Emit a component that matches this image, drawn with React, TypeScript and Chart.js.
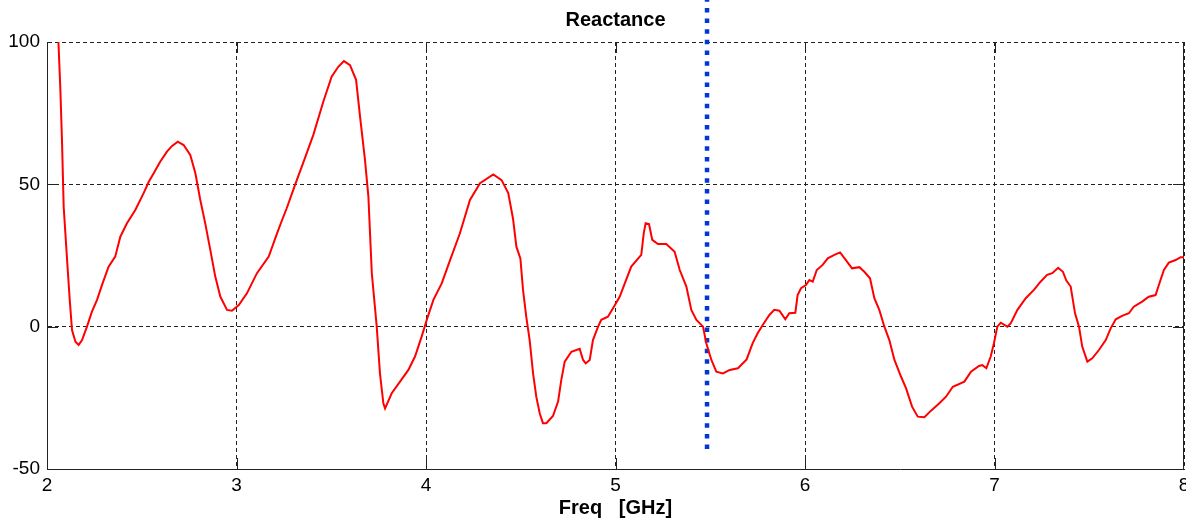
import { useEffect, useRef } from 'react';
import { Chart, registerables } from 'chart.js';

Chart.register(...registerables);

const chartTitle = 'Reactance';
const xAxisTitle = 'Freq   [GHz]';

const xTicks = [2, 3, 4, 5, 6, 7, 8];
const yTicks = [-50, 0, 50, 100];

const freqGHz = [
  2.060, 2.070, 2.079, 2.088, 2.106, 2.120, 2.132, 2.150, 2.167, 2.185,
  2.211, 2.237, 2.264, 2.290, 2.325, 2.360, 2.387, 2.422, 2.466, 2.510,
  2.537, 2.563, 2.598, 2.633, 2.660, 2.690, 2.721, 2.756, 2.783, 2.809,
  2.835, 2.862, 2.888, 2.915, 2.950, 2.976, 3.012, 3.055, 3.108, 3.170,
  3.214, 3.235, 3.265, 3.309, 3.361, 3.405, 3.458, 3.502, 3.537, 3.567,
  3.599, 3.631, 3.652, 3.678, 3.696, 3.714, 3.740, 3.757, 3.775, 3.784,
  3.819, 3.863, 3.907, 3.942, 3.977, 4.004, 4.039, 4.083, 4.127, 4.179,
  4.232, 4.285, 4.355, 4.399, 4.434, 4.459, 4.477, 4.498, 4.512, 4.529,
  4.547, 4.565, 4.582, 4.600, 4.617, 4.635, 4.670, 4.697, 4.714, 4.732,
  4.767, 4.811, 4.829, 4.843, 4.864, 4.881, 4.908, 4.925, 4.960, 4.987,
  5.022, 5.049, 5.083, 5.136, 5.149, 5.159, 5.177, 5.194, 5.224, 5.268,
  5.312, 5.339, 5.374, 5.400, 5.427, 5.462, 5.479, 5.506, 5.532, 5.567,
  5.603, 5.646, 5.692, 5.724, 5.750, 5.777, 5.812, 5.838, 5.865, 5.896,
  5.917, 5.949, 5.961, 5.979, 6.005, 6.023, 6.041, 6.062, 6.093, 6.120,
  6.155, 6.185, 6.216, 6.248, 6.287, 6.313, 6.343, 6.366, 6.392, 6.419,
  6.445, 6.472, 6.507, 6.533, 6.565, 6.595, 6.630, 6.665, 6.709, 6.744,
  6.780, 6.841, 6.876, 6.918, 6.936, 6.957, 6.980, 6.997, 7.015, 7.033,
  7.068, 7.086, 7.121, 7.165, 7.208, 7.243, 7.278, 7.305, 7.336, 7.361,
  7.379, 7.402, 7.425, 7.446, 7.463, 7.490, 7.516, 7.551, 7.587, 7.613,
  7.640, 7.673, 7.709, 7.735, 7.779, 7.814, 7.850, 7.876, 7.894, 7.920,
  7.956, 7.982, 8.000,
];

const reactance = [
  100.5, 84.3, 65.6, 42.1, 23.4, 9.4, -1.2, -5.3, -6.4, -4.7,
  0.0, 5.3, 9.4, 14.6, 21.1, 24.6, 31.6, 36.3, 41.0, 46.9,
  50.9, 53.9, 58.0, 61.5, 63.5, 65.0, 63.8, 60.3, 53.9, 44.5,
  36.3, 26.9, 17.6, 10.5, 5.9, 5.6, 7.6, 11.7, 18.8, 24.6,
  32.8, 36.5, 41.6, 49.8, 59.2, 67.3, 79.0, 87.8, 91.3, 93.3,
  91.9, 86.7, 73.8, 58.6, 45.7, 18.8, 0.0, -16.4, -26.9, -28.7,
  -23.4, -19.3, -15.2, -10.5, -3.5, 2.4, 9.4, 15.2, 23.4, 32.8,
  44.5, 50.4, 53.5, 51.5, 46.9, 38.0, 28.1, 24.0, 12.9, 3.5,
  -4.7, -16.4, -24.6, -30.4, -33.9, -33.9, -31.4, -26.3, -18.7, -12.3,
  -8.8, -7.8, -11.7, -12.9, -11.7, -4.7, 0.0, 2.4, 3.5, 6.5,
  10.5, 15.2, 21.1, 25.2, 32.8, 36.3, 36.0, 30.5, 29.0, 29.0,
  26.3, 19.9, 14.1, 5.9, 2.4, 0.0, -5.8, -11.7, -15.8, -16.4,
  -15.2, -14.6, -11.5, -5.8, -2.3, 0.6, 4.1, 5.9, 5.6, 2.6,
  4.7, 4.9, 11.1, 13.5, 14.6, 16.4, 15.8, 19.9, 21.7, 24.0,
  25.2, 26.1, 23.4, 20.5, 20.9, 19.3, 17.0, 10.0, 5.9, 0.0,
  -4.7, -11.7, -17.6, -21.6, -28.1, -31.6, -31.8, -29.5, -26.9, -24.6,
  -21.1, -19.3, -15.8, -13.8, -13.5, -14.6, -10.5, -5.8, 0.0, 1.4,
  0.0, 1.2, 5.9, 10.0, 12.9, 15.8, 18.2, 18.8, 20.7, 19.3,
  16.2, 14.1, 4.7, 0.0, -7.0, -12.3, -11.1, -8.2, -4.7, -0.6,
  2.6, 3.8, 4.7, 7.0, 8.8, 10.5, 11.1, 16.4, 19.9, 22.5,
  23.4, 24.4, 24.4,
];

const markerFreq = [5.483, 5.483];
const markerValue = [-43, 116];

const FONT = "'Liberation Sans', Arial, Helvetica, sans-serif";

const matlabAxes = {
  id: 'matlabAxes',
  beforeDatasetsDraw(chart: any) {
    const { ctx, chartArea } = chart;
    const { left, right, top, bottom } = chartArea;
    const xs = chart.scales.x;
    const ys = chart.scales.y;
    const L = 11;
    ctx.save();
    ctx.strokeStyle = '#222222';
    ctx.lineWidth = 1;
    ctx.setLineDash([]);
    ctx.beginPath();
    const rx = Math.round(right) - 0.5;
    ctx.moveTo(rx, top);
    ctx.lineTo(rx, bottom);
    xTicks.forEach((v) => {
      if (v === xTicks[0] || v === xTicks[xTicks.length - 1]) return;
      const px = Math.round(xs.getPixelForValue(v)) + 0.5;
      ctx.moveTo(px, bottom);
      ctx.lineTo(px, bottom - L);
      ctx.moveTo(px, top);
      ctx.lineTo(px, top + L);
    });
    yTicks.forEach((v) => {
      if (v === yTicks[0] || v === yTicks[yTicks.length - 1]) return;
      const py = Math.round(ys.getPixelForValue(v)) + 0.5;
      ctx.moveTo(left, py);
      ctx.lineTo(left + L, py);
      ctx.moveTo(right, py);
      ctx.lineTo(right - L, py);
    });
    ctx.stroke();
    ctx.restore();
  },
};

export default function App() {
  const canvasRef = useRef<HTMLCanvasElement | null>(null);

  useEffect(() => {
    document.body.style.margin = '0';
    const canvas = canvasRef.current;
    if (!canvas) return;

    const curve = freqGHz.map((f, i) => ({ x: f, y: reactance[i] }));
    const marker = markerFreq.map((f, i) => ({ x: f, y: markerValue[i] }));

    const chart = new Chart(canvas, {
      type: 'line',
      data: {
        datasets: [
          {
            label: 'Reactance',
            data: curve,
            borderColor: '#ff0000',
            borderWidth: 2,
            pointRadius: 0,
            tension: 0,
            fill: false,
          },
          {
            label: 'marker',
            data: marker,
            borderColor: '#0038d4',
            borderWidth: 4.5,
            borderDash: [4.5, 6.15],
            borderCapStyle: 'butt',
            pointRadius: 0,
            clip: false as any,
            fill: false,
          },
        ],
      },
      options: {
        responsive: false,
        animation: false,
        events: [],
        layout: { padding: { left: 0, right: 2, top: 0, bottom: 0 } },
        plugins: {
          legend: { display: false },
          tooltip: { enabled: false },
          title: {
            display: true,
            text: chartTitle,
            fullSize: false,
            color: '#000',
            font: { family: FONT, size: 20, weight: 'bold' },
            padding: { top: 8.5, bottom: 9.5 },
          },
        },
        scales: {
          x: {
            type: 'linear',
            min: 2,
            max: 8,
            afterBuildTicks: (scale: any) => {
              scale.ticks = xTicks.map((v) => ({ value: v }));
            },
            afterFit: (scale: any) => {
              scale.height = 51;
              scale.paddingLeft = 0;
              scale.paddingRight = 0;
            },
            ticks: {
              color: '#000',
              padding: 5,
              maxRotation: 0,
              autoSkip: false,
              font: { family: FONT, size: 19 },
            },
            grid: {
              color: '#222222',
              lineWidth: 1,
              drawTicks: false,
            },
            border: { display: true, color: '#222222', width: 1, dash: [4, 3] },
            title: {
              display: true,
              text: xAxisTitle,
              color: '#000',
              font: { family: FONT, size: 20, weight: 'bold' },
              padding: { top: 0, bottom: 0 },
            },
          },
          y: {
            type: 'linear',
            min: -50,
            max: 100,
            afterBuildTicks: (scale: any) => {
              scale.ticks = yTicks.map((v) => ({ value: v }));
            },
            afterFit: (scale: any) => {
              scale.width = 47;
            },
            ticks: {
              color: '#000',
              padding: 7,
              font: { family: FONT, size: 19 },
            },
            grid: {
              color: '#222222',
              lineWidth: 1,
              drawTicks: false,
            },
            border: { display: true, color: '#222222', width: 1, dash: [4, 3] },
          },
        },
      },
      plugins: [matlabAxes],
    });

    return () => {
      chart.destroy();
    };
  }, []);

  return (
    <div style={{ width: 1186, height: 520, overflow: 'hidden' }}>
      <canvas ref={canvasRef} width={1186} height={520} style={{ width: 1186, height: 520, display: 'block' }} />
    </div>
  );
}
